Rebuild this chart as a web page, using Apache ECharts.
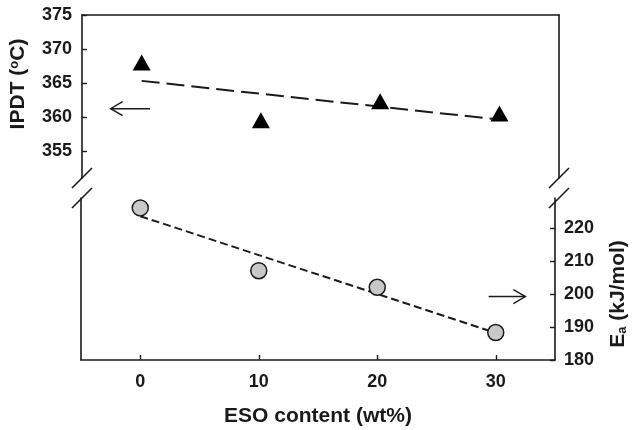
<!DOCTYPE html>
<html>
<head>
<meta charset="utf-8">
<script src="https://cdn.jsdelivr.net/npm/echarts@6/dist/echarts.min.js"></script>
<style>html,body{margin:0;padding:0;background:#fff}#c{width:637px;height:430px}</style>
</head>
<body>
<div id="c"></div>
<script>
// ---- data ----
var esoContent = [0, 10, 20, 30];
var ipdt = [368.0, 359.5, 362.3, 360.5];
var ea = [226.0, 207.0, 202.0, 188.3];
var ipdtFit = [[0, 365.3], [30, 359.6]];
var eaFit = [[0, 223.5], [30, 188.2]];
var xTicks = [0, 10, 20, 30];
var ipdtTicks = [355, 360, 365, 370, 375];
var eaTicks = [180, 190, 200, 210, 220];
// annotation arrows: [tailX, tailY, headX, headY]
var ipdtArrow = [[0.7, 361.2, -2.6, 361.2]];
var eaArrow = [[29.4, 199.2, 32.5, 199.2]];

var INK = '#1a1a1a';
var FONT = 'Liberation Sans, Arial, sans-serif';

function pairs(xs, ys) { return xs.map(function (x, i) { return [x, ys[i]]; }); }

function arrowRender(params, api) {
  var p1 = api.coord([api.value(0), api.value(1)]);
  var p2 = api.coord([api.value(2), api.value(3)]);
  var dx = p2[0] - p1[0], dy = p2[1] - p1[1];
  var len = Math.sqrt(dx * dx + dy * dy);
  var ux = dx / len, uy = dy / len;
  var hl = 12, hw = 7;
  var b1 = [p2[0] - ux * hl - uy * hw, p2[1] - uy * hl + ux * hw];
  var b2 = [p2[0] - ux * hl + uy * hw, p2[1] - uy * hl - ux * hw];
  var st = { stroke: INK, lineWidth: 1.4, fill: null };
  return {
    type: 'group',
    children: [
      { type: 'line', shape: { x1: p1[0], y1: p1[1], x2: p2[0], y2: p2[1] }, style: st },
      { type: 'polyline', shape: { points: [b1, p2, b2] }, style: st }
    ]
  };
}

var chart = echarts.init(document.getElementById('c'), null, { renderer: 'canvas' });

var lineAxis = { show: true, onZero: false, lineStyle: { color: INK, width: 1.6 } };
var tickLabelStyle = { color: INK, fontFamily: FONT, fontWeight: 'bold', fontSize: 18 };
var nameStyleBase = { color: INK, fontFamily: FONT, fontWeight: 'bold', fontSize: 21 };

var option = {
  animation: false,
  backgroundColor: '#fff',
  grid: [
    { left: 81, right: 78, top: 15, height: 163 },
    { left: 81, right: 78, top: 198, height: 162 }
  ],
  xAxis: [
    { gridIndex: 0, type: 'value', min: -5, max: 35, position: 'top',
      axisLine: lineAxis, axisTick: { show: false }, axisLabel: { show: false }, splitLine: { show: false } },
    { gridIndex: 1, type: 'value', min: -5, max: 35, position: 'bottom',
      axisLine: lineAxis,
      axisTick: { show: true, inside: true, length: 5, lineStyle: { color: INK, width: 1.4 }, customValues: xTicks },
      axisLabel: Object.assign({ margin: 13, customValues: xTicks }, tickLabelStyle),
      splitLine: { show: false },
      name: 'ESO content (wt%)', nameLocation: 'middle', nameGap: 46,
      nameTextStyle: nameStyleBase }
  ],
  yAxis: [
    { gridIndex: 0, type: 'value', min: 351, max: 375, position: 'left',
      axisLine: lineAxis,
      axisTick: { show: true, inside: true, length: 5, lineStyle: { color: INK, width: 1.4 }, customValues: ipdtTicks },
      axisLabel: Object.assign({ margin: 10, customValues: ipdtTicks }, tickLabelStyle),
      splitLine: { show: false },
      name: 'IPDT ({sup|o}C)', nameLocation: 'middle', nameRotate: 90, nameGap: 53,
      nameTextStyle: Object.assign({ padding: [0, 0, 0, 25],
        rich: { sup: { fontFamily: FONT, fontWeight: 'bold', fontSize: 13, color: INK, verticalAlign: 'top', padding: [0, 0, 8, 0] } } }, nameStyleBase) },
    { gridIndex: 0, type: 'value', min: 351, max: 375, position: 'right',
      axisLine: lineAxis, axisTick: { show: false }, axisLabel: { show: false }, splitLine: { show: false } },
    { gridIndex: 1, type: 'value', min: 180, max: 229, position: 'right',
      axisLine: lineAxis,
      axisTick: { show: true, inside: true, length: 5, lineStyle: { color: INK, width: 1.4 }, customValues: eaTicks },
      axisLabel: Object.assign({ margin: 9, customValues: eaTicks }, tickLabelStyle),
      splitLine: { show: false },
      name: 'E{sub|a} (kJ/mol)', nameLocation: 'middle', nameRotate: 90, nameGap: 53,
      nameTextStyle: Object.assign({ padding: [0, 30, 0, 0],
        rich: { sub: { fontFamily: FONT, fontWeight: 'bold', fontSize: 13, color: INK, verticalAlign: 'bottom', padding: [8, 0, 0, 0] } } }, nameStyleBase) },
    { gridIndex: 1, type: 'value', min: 180, max: 229, position: 'left',
      axisLine: lineAxis, axisTick: { show: false }, axisLabel: { show: false }, splitLine: { show: false } }
  ],
  series: [
    { type: 'line', xAxisIndex: 0, yAxisIndex: 0, data: ipdtFit, symbol: 'none', z: 2,
      lineStyle: { color: INK, width: 2, type: [18, 7] } },
    { type: 'scatter', xAxisIndex: 0, yAxisIndex: 0, data: pairs(esoContent, ipdt),
      symbol: 'triangle', symbolSize: [18, 16], z: 3,
      itemStyle: { color: '#000', borderWidth: 0, opacity: 1 } },
    { type: 'custom', xAxisIndex: 0, yAxisIndex: 0, data: ipdtArrow, renderItem: arrowRender,
      encode: { x: [0, 2], y: [1, 3] }, z: 2 },
    { type: 'line', xAxisIndex: 1, yAxisIndex: 2, data: eaFit, symbol: 'none', z: 2,
      lineStyle: { color: INK, width: 2, type: [8, 4] } },
    { type: 'scatter', xAxisIndex: 1, yAxisIndex: 2, data: pairs(esoContent, ea),
      symbol: 'circle', symbolSize: 16, z: 3,
      itemStyle: { color: '#c8c8c8', borderColor: INK, borderWidth: 1.5, opacity: 1 } },
    { type: 'custom', xAxisIndex: 1, yAxisIndex: 2, data: eaArrow, renderItem: arrowRender,
      encode: { x: [0, 2], y: [1, 3] }, z: 2 }
  ]
};
chart.setOption(option);

// axis break marks (decoration) placed from axis positions
var xl = chart.convertToPixel({ xAxisIndex: 0 }, -5);
var xr = chart.convertToPixel({ xAxisIndex: 0 }, 35);
var yTopEnd = chart.convertToPixel({ yAxisIndex: 0 }, 351);
var yBotStart = chart.convertToPixel({ yAxisIndex: 2 }, 229);
function slash(cx, cy) {
  return { type: 'line', shape: { x1: cx - 10, y1: cy + 10, x2: cx + 10, y2: cy - 10 },
    style: { stroke: INK, lineWidth: 1.6 }, z: 10 };
}
chart.setOption({
  graphic: [
    slash(xl, yTopEnd), slash(xl, yBotStart),
    slash(xr, yTopEnd), slash(xr, yBotStart)
  ]
});
</script>
</body>
</html>
